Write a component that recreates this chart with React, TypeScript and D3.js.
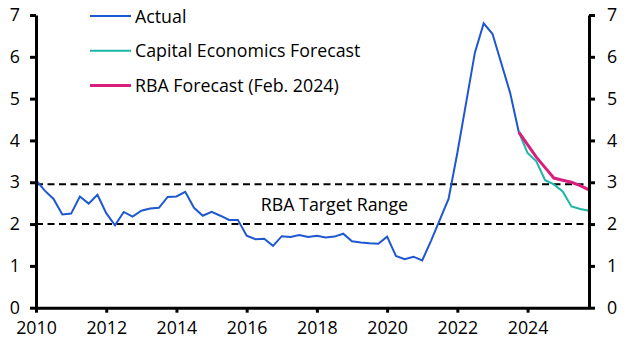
import { useEffect, useRef } from 'react';
import * as d3 from 'd3';

// quarterly, first point = 2010 Q1
const actual = [
  3.05, 2.8, 2.6, 2.23,
  2.25, 2.66, 2.49, 2.7,
  2.26, 1.97, 2.29, 2.18,
  2.32, 2.37, 2.39, 2.65,
  2.66, 2.77, 2.39, 2.2,
  2.29, 2.2, 2.1, 2.1,
  1.72, 1.64, 1.65, 1.48,
  1.71, 1.69, 1.74, 1.69,
  1.72, 1.68, 1.7, 1.77,
  1.59, 1.56, 1.54, 1.53,
  1.7, 1.24, 1.16, 1.22,
  1.13, 1.6, 2.1, 2.6,
  3.7, 4.9, 6.1, 6.8,
  6.55, 5.85, 5.15, 4.2,
];
// forecasts, first point = 2023 Q4
const ceForecast = [4.2, 3.7, 3.5, 3.05, 2.95, 2.78, 2.42, 2.36, 2.32];
const rbaForecast = [4.2, 3.9, 3.6, 3.35, 3.1, 3.05, 3.0, 2.92, 2.82];

const xTicks = [2010, 2012, 2014, 2016, 2018, 2020, 2022, 2024];
const yTicks = [0, 1, 2, 3, 4, 5, 6, 7];
const targetRange = [2, 2.95];

const legendItems = [
  { label: 'Actual', color: '#1f57d1', width: 2 },
  { label: 'Capital Economics Forecast', color: '#1db5a5', width: 2 },
  { label: 'RBA Forecast (Feb. 2024)', color: '#d81e7e', width: 3 },
];

const FONT = '"Open Sans", Lato, sans-serif';
const FS = 17.8;

export default function App() {
  const svgRef = useRef<SVGSVGElement>(null);

  useEffect(() => {
    if (!svgRef.current) return;
    const svg = d3.select(svgRef.current);
    svg.selectAll('*').remove();

    const L = 36, R = 589, T = 15, B = 307.7;
    const x = d3.scaleLinear().domain([2010, 2025.75]).range([L, R]);
    const y = d3.scaleLinear().domain([0, 7]).range([B, T]);

    const toPts = (vals: number[], start: number) =>
      vals.map((v, i) => [start + i / 4, v] as [number, number]);

    const line = d3.line<[number, number]>().x((d) => x(d[0])).y((d) => y(d[1]));

    // target range dashed lines
    targetRange.forEach((v) => {
      svg.append('line')
        .attr('x1', L).attr('x2', R)
        .attr('y1', y(v)).attr('y2', y(v))
        .attr('stroke', '#000').attr('stroke-width', 2)
        .attr('stroke-dasharray', '7,4.5');
    });
    svg.append('text')
      .attr('x', x(2018.5)).attr('y', 211)
      .attr('text-anchor', 'middle')
      .attr('font-family', FONT).attr('font-size', FS)
      .text('RBA Target Range');

    // series
    svg.append('path').datum(toPts(ceForecast, 2023.75))
      .attr('d', line).attr('fill', 'none')
      .attr('stroke', legendItems[1].color).attr('stroke-width', 2);
    svg.append('path').datum(toPts(rbaForecast, 2023.75))
      .attr('d', line).attr('fill', 'none')
      .attr('stroke', legendItems[2].color).attr('stroke-width', 3);
    svg.append('path').datum(toPts(actual, 2010))
      .attr('d', line).attr('fill', 'none')
      .attr('stroke', legendItems[0].color).attr('stroke-width', 2);

    // axes
    const axisStyle = (g: d3.Selection<SVGGElement, unknown, null, undefined>) => {
      g.select('.domain').attr('stroke-width', 3);
      g.selectAll('.tick line').attr('stroke-width', 3);
      g.selectAll('text').attr('font-family', FONT).attr('font-size', FS).attr('fill', '#000');
    };

    svg.append('g').attr('transform', `translate(${L},0)`)
      .call(d3.axisLeft(y).tickValues(yTicks).tickFormat(d3.format('d')).tickSize(6).tickSizeOuter(0).tickPadding(10))
      .call(axisStyle);
    svg.append('g').attr('transform', `translate(${R},0)`)
      .call(d3.axisRight(y).tickValues(yTicks).tickFormat(d3.format('d')).tickSize(6).tickSizeOuter(0).tickPadding(12))
      .call(axisStyle);
    svg.append('g').attr('transform', `translate(0,${B})`)
      .call(d3.axisBottom(x).tickValues(xTicks).tickFormat(d3.format('d')).tickSize(5).tickSizeOuter(0).tickPadding(9))
      .call(axisStyle);

    // legend
    legendItems.forEach((item, i) => {
      const ly = 16 + i * 34.7;
      svg.append('line')
        .attr('x1', 90).attr('x2', 131)
        .attr('y1', ly).attr('y2', ly)
        .attr('stroke', item.color).attr('stroke-width', item.width);
      svg.append('text')
        .attr('x', 135).attr('y', ly + 6.5)
        .attr('font-family', FONT).attr('font-size', FS)
        .text(item.label);
    });
  }, []);

  return (
    <div style={{ position: 'fixed', left: 0, top: 0 }}>
      <svg ref={svgRef} width={627} height={352} style={{ display: 'block', background: '#fff' }} />
    </div>
  );
}
